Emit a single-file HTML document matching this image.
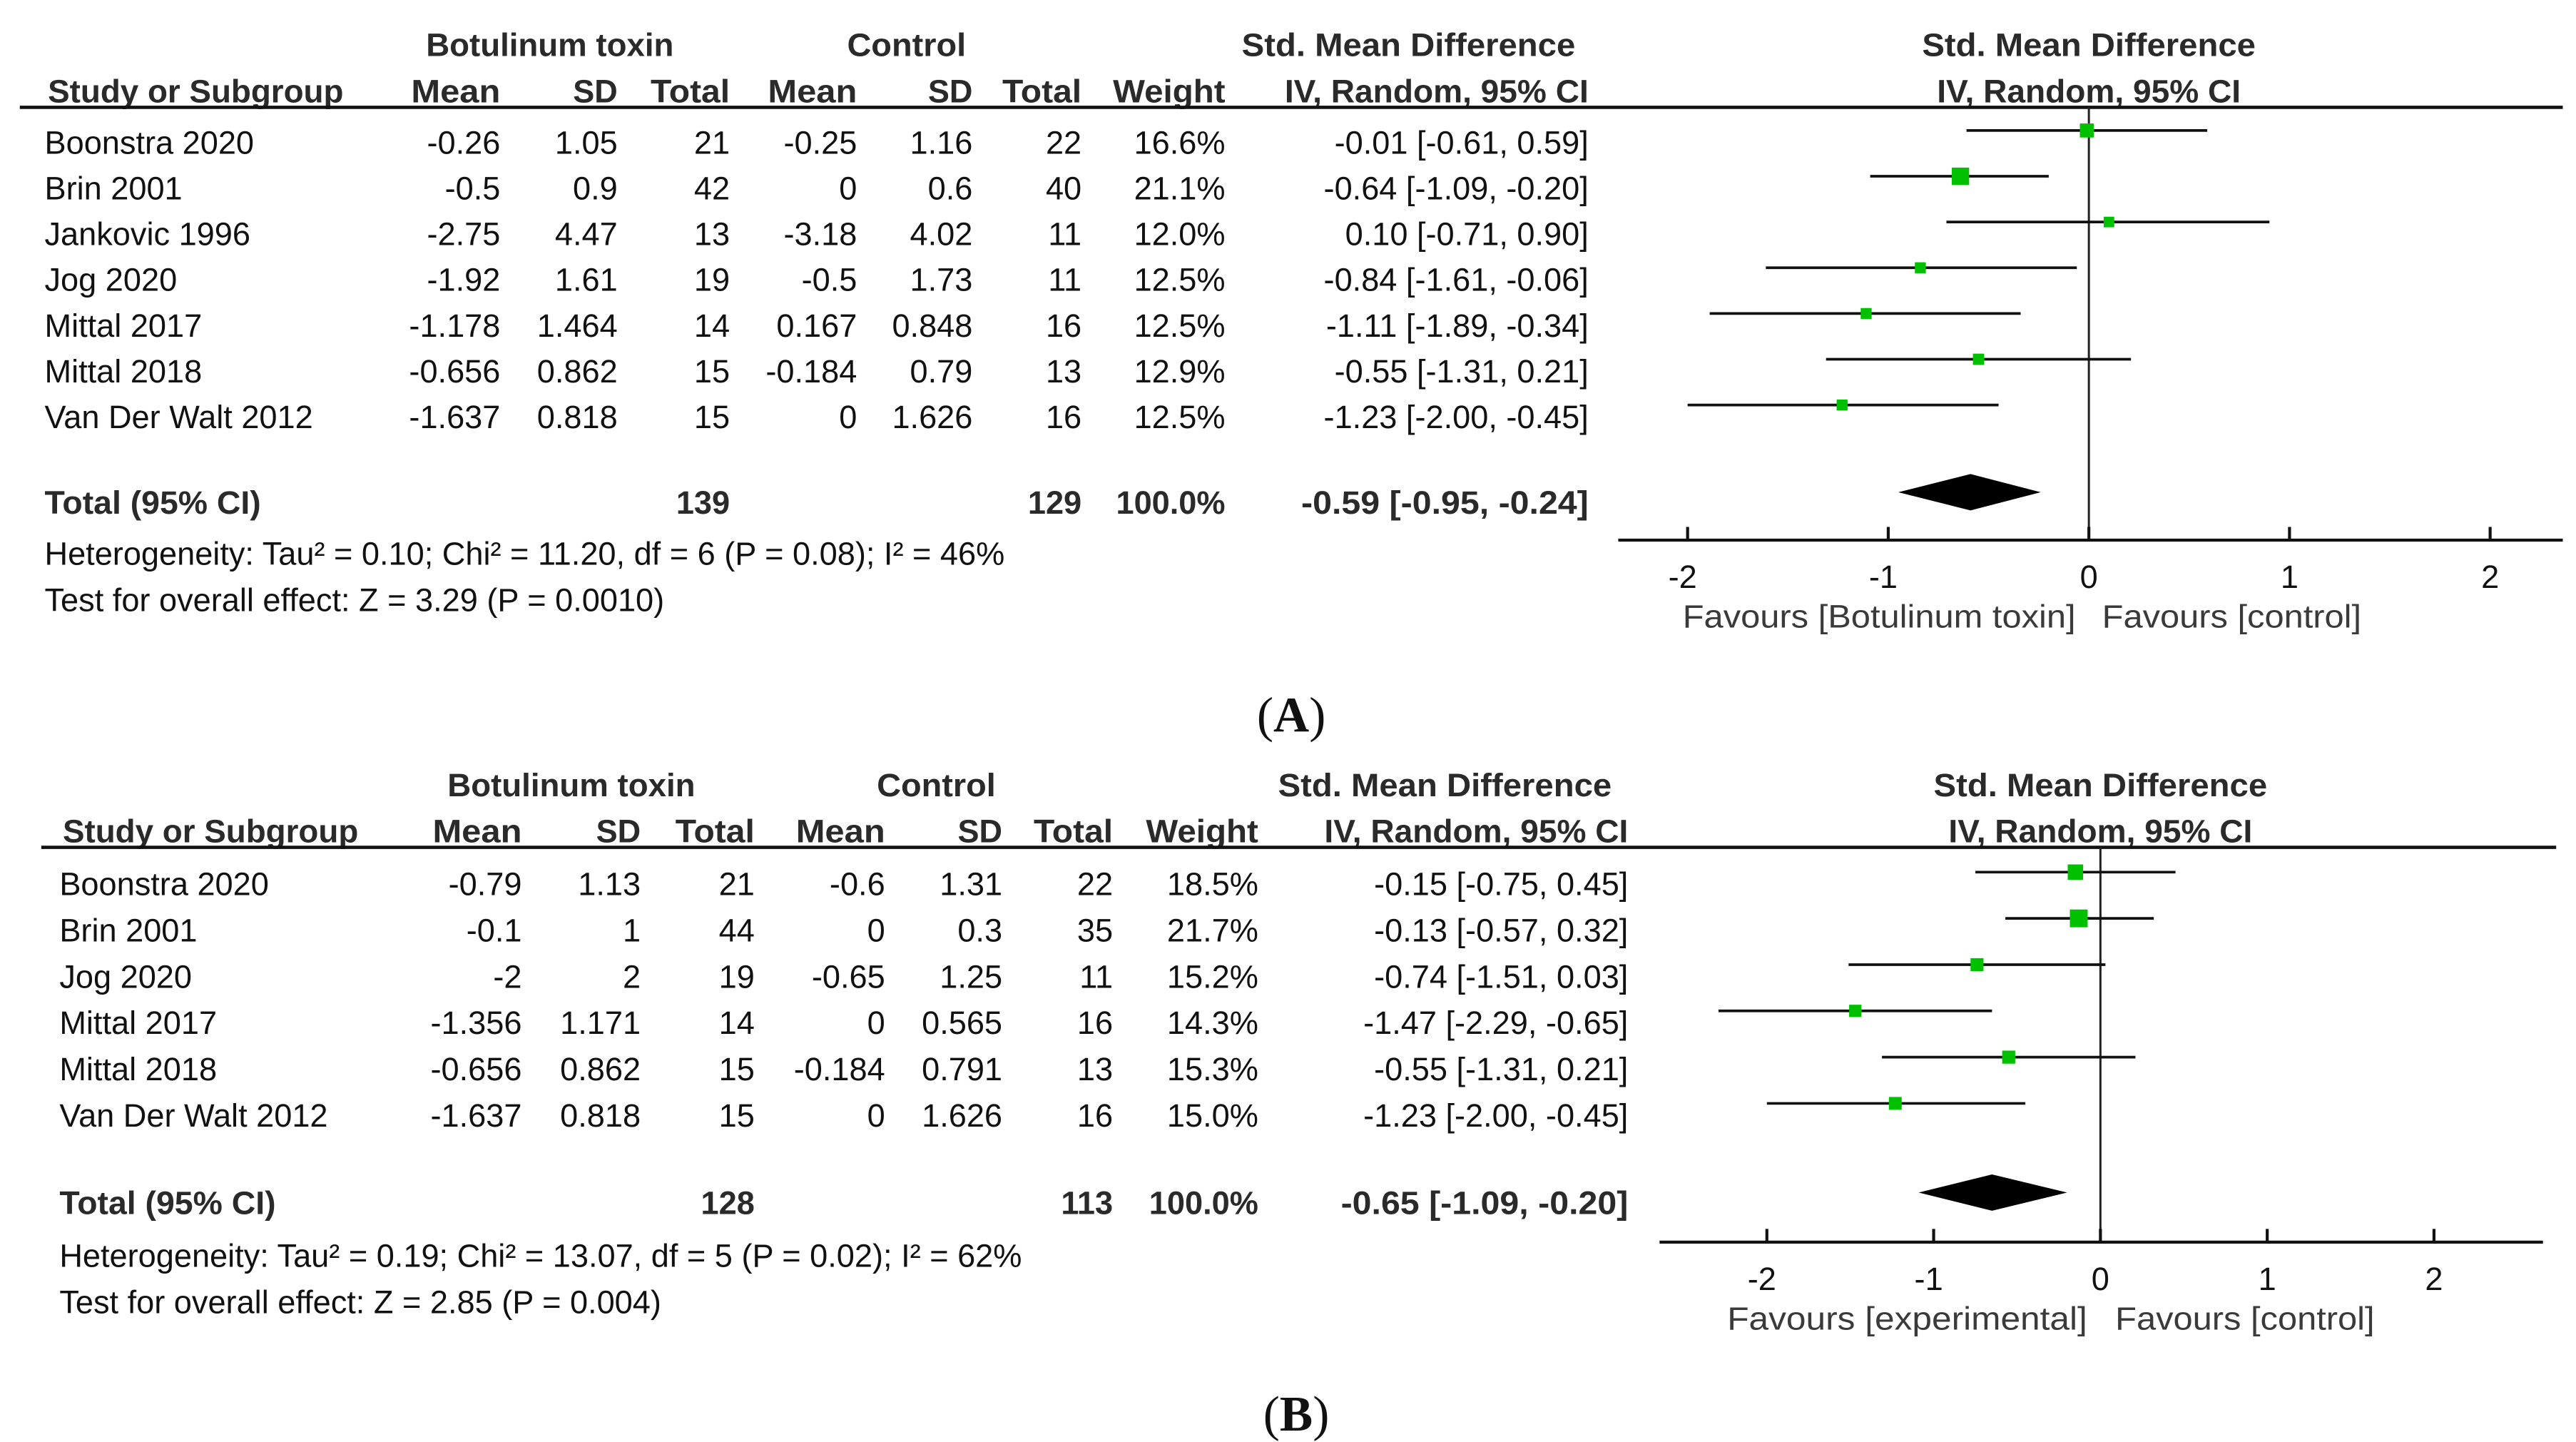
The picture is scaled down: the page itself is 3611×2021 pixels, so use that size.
<!DOCTYPE html>
<html><head><meta charset="utf-8"><style>
html,body{margin:0;padding:0;background:#fff;}
svg{display:block;}
text{font-family:"Liberation Sans",Arial,sans-serif;fill:#111;}
.h{font-weight:bold;fill:#2a2a2a;}
.fav{fill:#3a3a3a;}
</style></head><body>
<svg id="fig" width="3611" height="2021" viewBox="0 0 1560 873" preserveAspectRatio="none" xmlns="http://www.w3.org/2000/svg"></svg>
<script>
// ---- Panel A data ----
const studiesA = ["Boonstra 2020","Brin 2001","Jankovic 1996","Jog 2020","Mittal 2017","Mittal 2018","Van Der Walt 2012"];
const btMeanA = ["-0.26","-0.5","-2.75","-1.92","-1.178","-0.656","-1.637"];
const btSdA = ["1.05","0.9","4.47","1.61","1.464","0.862","0.818"];
const btTotalA = ["21","42","13","19","14","15","15"];
const ctMeanA = ["-0.25","0","-3.18","-0.5","0.167","-0.184","0"];
const ctSdA = ["1.16","0.6","4.02","1.73","0.848","0.79","1.626"];
const ctTotalA = ["22","40","11","11","16","13","16"];
const weightA = [16.6,21.1,12.0,12.5,12.5,12.9,12.5];
const smdA = [-0.01,-0.64,0.10,-0.84,-1.11,-0.55,-1.23];
const lowA = [-0.61,-1.09,-0.71,-1.61,-1.89,-1.31,-2.00];
const highA = [0.59,-0.20,0.90,-0.06,-0.34,0.21,-0.45];
const totalA = {bt:"139",ct:"129",est:-0.59,lo:-0.95,hi:-0.24};
const hetA = "Heterogeneity: Tau² = 0.10; Chi² = 11.20, df = 6 (P = 0.08); I² = 46%";
const testA = "Test for overall effect: Z = 3.29 (P = 0.0010)";
// ---- Panel B data ----
const studiesB = ["Boonstra 2020","Brin 2001","Jog 2020","Mittal 2017","Mittal 2018","Van Der Walt 2012"];
const btMeanB = ["-0.79","-0.1","-2","-1.356","-0.656","-1.637"];
const btSdB = ["1.13","1","2","1.171","0.862","0.818"];
const btTotalB = ["21","44","19","14","15","15"];
const ctMeanB = ["-0.6","0","-0.65","0","-0.184","0"];
const ctSdB = ["1.31","0.3","1.25","0.565","0.791","1.626"];
const ctTotalB = ["22","35","11","16","13","16"];
const weightB = [18.5,21.7,15.2,14.3,15.3,15.0];
const smdB = [-0.15,-0.13,-0.74,-1.47,-0.55,-1.23];
const lowB = [-0.75,-0.57,-1.51,-2.29,-1.31,-2.00];
const highB = [0.45,0.32,0.03,-0.65,0.21,-0.45];
const totalB = {bt:"128",ct:"113",est:-0.65,lo:-1.09,hi:-0.20};
const hetB = "Heterogeneity: Tau² = 0.19; Chi² = 13.07, df = 5 (P = 0.02); I² = 62%";
const testB = "Test for overall effect: Z = 2.85 (P = 0.004)";
const ticks = [-2,-1,0,1,2];

const NS="http://www.w3.org/2000/svg";
const svg=document.getElementById('fig');
function mk(tag,attrs,parent){const e=document.createElementNS(NS,tag);for(const k in attrs)e.setAttribute(k,attrs[k]);(parent||svg).appendChild(e);return e;}
function txt(g,x,y,s,anchor,cls,name,tl){
  const t=mk('text',{x:x,y:y,'font-size':19.5,'text-anchor':anchor||'start'},g);
  if(cls)t.setAttribute('class',cls);
  if(tl){t.setAttribute('textLength',tl);t.setAttribute('lengthAdjust','spacingAndGlyphs');}
  
  
  t.textContent=s;return t;}
function f2(v){return v.toFixed(2);}
function ci(e,l,h){return f2(e)+" ["+f2(l)+", "+f2(h)+"]";}

function panel(P){
  const g=mk('g',{});
  
  
  const C=P.cols;
  txt(g,C.btC,P.h1+7,"Botulinum toxin","middle","h","header-botulinum-toxin",150);
  txt(g,C.ctC,P.h1+7,"Control","middle","h","header-control",72);
  txt(g,C.smdC,P.h1+7,"Std. Mean Difference","middle","h","header-smd",202);
  txt(g,P.zeroX,P.h1+7,"Std. Mean Difference","middle","h","header-smd-plot",202);
  const y2=P.h1+35;
  txt(g,C.study,y2,"Study or Subgroup","start","h","header-study",179);
  txt(g,C.m1,y2,"Mean","end","h","header-mean-bt",54);
  txt(g,C.s1,y2,"SD","end","h","header-sd-bt",27);
  txt(g,C.t1,y2,"Total","end","h","header-total-bt",48);
  txt(g,C.m2,y2,"Mean","end","h","header-mean-ct",54);
  txt(g,C.s2,y2,"SD","end","h","header-sd-ct",27);
  txt(g,C.t2,y2,"Total","end","h","header-total-ct",48);
  txt(g,C.w,y2,"Weight","end","h","header-weight",68);
  txt(g,C.ci,y2,"IV, Random, 95% CI","end","h","header-ci",184);
  txt(g,P.zeroX,y2,"IV, Random, 95% CI","middle","h","header-ci-plot",184);
  const hl=mk('line',{x1:P.lineX1,x2:P.lineX2,y1:P.lineY,y2:P.lineY,stroke:'#111','stroke-width':2},g);
  
  
  const sx=v=>P.zeroX+v*P.unit;
  const vl=mk('line',{x1:sx(0),x2:sx(0),y1:P.lineY,y2:P.axisY,stroke:'#222','stroke-width':1.3},g);
  
  
  P.studies.forEach((s,i)=>{
    const y=P.row0+i*P.rowH;
    txt(g,C.study-2,y+7,s,"start",null,"study-name");
    txt(g,C.m1,y+7,P.m1[i],"end",null,"bt-mean");
    txt(g,C.s1,y+7,P.s1[i],"end",null,"bt-sd");
    txt(g,C.t1,y+7,P.t1[i],"end",null,"bt-total");
    txt(g,C.m2,y+7,P.m2[i],"end",null,"ct-mean");
    txt(g,C.s2,y+7,P.s2[i],"end",null,"ct-sd");
    txt(g,C.t2,y+7,P.t2[i],"end",null,"ct-total");
    txt(g,C.w,y+7,P.w[i].toFixed(1)+"%","end",null,"weight");
    txt(g,C.ci,y+7,ci(P.e[i],P.lo[i],P.hi[i]),"end",null,"smd-ci");
    const ly=y-7;
    const l=mk('line',{x1:sx(P.lo[i]),x2:sx(P.hi[i]),y1:ly,y2:ly,stroke:'#111','stroke-width':1.6},g);
    
    
    const sz=P.w[i]*0.45+1;
    const r=mk('rect',{x:sx(P.e[i])-sz/2,y:ly-sz/2,width:sz,height:sz,fill:'#00c000'},g);
    
    
  });
  const ty=P.totY;
  txt(g,C.study-2,ty+7,"Total (95% CI)","start","h","total-label",131);
  txt(g,C.t1,ty+7,P.tot.bt,"end","h","total-bt");
  txt(g,C.t2,ty+7,P.tot.ct,"end","h","total-ct");
  txt(g,C.w,ty+7,"100.0%","end","h","total-weight");
  txt(g,C.ci,ty+7,ci(P.tot.est,P.tot.lo,P.tot.hi),"end","h","total-ci",174);
  const dy=ty-6;
  const d=mk('polygon',{points:`${sx(P.tot.lo)},${dy} ${sx(P.tot.est)},${dy-11} ${sx(P.tot.hi)},${dy} ${sx(P.tot.est)},${dy+11}`,fill:'#000'},g);
  
  
  txt(g,C.study-2,P.hetY,P.het,"start",null,"heterogeneity-text");
  txt(g,C.study-2,P.hetY+28,P.test,"start",null,"overall-effect-text");
  const ax=mk('line',{x1:P.axX1,x2:P.axX2,y1:P.axisY,y2:P.axisY,stroke:'#111','stroke-width':1.8},g);
  
  
  ticks.forEach(t=>{
    const tk=mk('line',{x1:sx(t),x2:sx(t),y1:P.axisY-8,y2:P.axisY,stroke:'#111','stroke-width':1.8},g);
    
    
    txt(g,sx(t)-(t<0?3:0),P.axisY+29,String(t),"middle",null,"x-tick-label");
  });
  txt(g,P.fav1X,P.axisY+53,P.fav1,"start","fav","favours-left",P.fav1W);
  txt(g,P.fav2X,P.axisY+53,"Favours [control]","start","fav","favours-right",157);
  const lab=mk('text',{x:P.labX,y:P.labY,'font-size':30,'text-anchor':'middle',style:'font-family:"Liberation Serif",serif'},g);
  
  
  lab.innerHTML='(<tspan font-weight="bold">'+P.lab+'</tspan>)';
}

panel({name:'panel-a',h1:27,cols:{btC:333,ctC:549,smdC:853,study:29,m1:303,s1:374,t1:442,m2:519,s2:589,t2:655,w:742,ci:962},
  zeroX:1265,unit:121.5,lineX1:12,lineX2:1552,lineY:65,axisY:327,axX1:980,axX2:1552,
  studies:studiesA,m1:btMeanA,s1:btSdA,t1:btTotalA,m2:ctMeanA,s2:ctSdA,t2:ctTotalA,w:weightA,e:smdA,lo:lowA,hi:highA,
  row0:86,rowH:27.7,totY:304,tot:totalA,het:hetA,test:testA,hetY:342,
  fav1:"Favours [Botulinum toxin]",fav1X:1019,fav1W:238,fav2X:1273,lab:'A',labX:782,labY:443});
panel({name:'panel-b',h1:475,cols:{btC:346,ctC:567,smdC:875,study:38,m1:316,s1:388,t1:457,m2:536,s2:607,t2:674,w:762,ci:986},
  zeroX:1272,unit:101,lineX1:25,lineX2:1548,lineY:513,axisY:752,axX1:1005,axX2:1540,
  studies:studiesB,m1:btMeanB,s1:btSdB,t1:btTotalB,m2:ctMeanB,s2:ctSdB,t2:ctTotalB,w:weightB,e:smdB,lo:lowB,hi:highB,
  row0:535,rowH:28,totY:728,tot:totalB,het:hetB,test:testB,hetY:767,
  fav1:"Favours [experimental]",fav1X:1046,fav1W:218,fav2X:1281,lab:'B',labX:785,labY:866});
</script>
</body></html>
